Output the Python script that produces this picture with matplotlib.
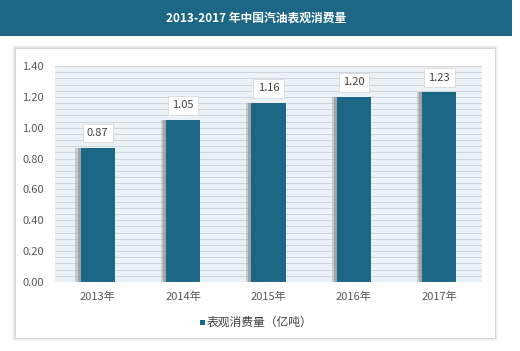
import matplotlib
matplotlib.use("Agg")
import matplotlib.pyplot as plt
from matplotlib.patches import Rectangle
import numpy as np

plt.rcParams['font.family'] = ['Noto Sans CJK SC', 'DejaVu Sans']

categories = ["2013年", "2014年", "2015年", "2016年", "2017年"]
values = [0.87, 1.05, 1.16, 1.20, 1.23]
yticks = [0.00, 0.20, 0.40, 0.60, 0.80, 1.00, 1.20, 1.40]
title = "2013-2017 年中国汽油表观消费量"
legend_label = "表观消费量（亿吨）"

W, H = 520, 351
fig = plt.figure(figsize=(W/100, H/100), dpi=100)
fig.patch.set_facecolor("white")

# title bar
fig.patches.append(Rectangle((0, 1-36/H), 512/W, 36/H, transform=fig.transFigure,
                             facecolor="#1C6786", edgecolor="none", zorder=-5))
fig.text(256/W, 1-18/H, title, color="white", fontsize=8.5, fontweight="bold",
         ha="center", va="center")

# panel with shadow
for i, a in enumerate([0.05, 0.08, 0.12]):
    d = 3 - i
    fig.patches.append(Rectangle(((15-d)/W, 1-(338+d)/H), (480+2*d)/W, (290+2*d)/H,
                                 transform=fig.transFigure, facecolor="#888888",
                                 alpha=a, edgecolor="none", zorder=-5))
fig.patches.append(Rectangle((15/W, 1-338/H), 480/W, 290/H, transform=fig.transFigure,
                             facecolor="white", edgecolor="#D0D0D0", lw=0.6, zorder=-4))

ax = fig.add_axes([55/W, 1-282/H, (482-55)/W, (282-66)/H])
ax.set_zorder(1)
ax.set_facecolor("#EAF1F7")
ax.set_xlim(-0.5, len(categories)-0.5)
ax.set_ylim(0, 1.40)
for y in np.arange(0.04, 1.40, 0.04):
    ax.axhline(y, color="#C9D3DC", lw=0.6, zorder=1)
ax.axhline(1.40, color="#C9D3DC", lw=0.6, zorder=1)

x = np.arange(len(categories))
bw = 0.40
# soft shadows
ax.bar(x - 0.03, values, width=bw + 0.06, color="#A0A0A0", alpha=0.45, zorder=2)
ax.bar(x - 0.02, values, width=bw + 0.03, color="#8A8A8A", alpha=0.6, zorder=2)
ax.bar(x, values, width=bw, color="#1C6786", zorder=3)

for xi, v in zip(x, values):
    ax.annotate(f"{v:.2f}", (xi, v), xytext=(0, 7), textcoords="offset points",
                ha="center", va="bottom", fontsize=8, color="#404040",
                bbox=dict(boxstyle="square,pad=0.4", facecolor="white",
                          edgecolor="#D8D8D8", lw=0.6), zorder=5)

ax.set_yticks(yticks)
ax.set_yticklabels([f"{t:.2f}" for t in yticks])
ax.set_xticks(x)
ax.set_xticklabels(categories)
ax.tick_params(axis="both", length=0, labelsize=8, colors="#595959")
ax.tick_params(axis="y", pad=8)
ax.tick_params(axis="x", pad=7)
for s in ax.spines.values():
    s.set_visible(False)
ax.axhline(0, color="#BFBFBF", lw=0.8, zorder=4)

# legend
fig.patches.append(Rectangle((200/W, 1-325/H), 5/W, 5/H, transform=fig.transFigure,
                             facecolor="#1C6786", edgecolor="none", zorder=2))
fig.text(207/W, 1-322/H, legend_label, fontsize=8.5, color="#404040",
         ha="left", va="center")

fig.savefig("out.png", dpi=100)
